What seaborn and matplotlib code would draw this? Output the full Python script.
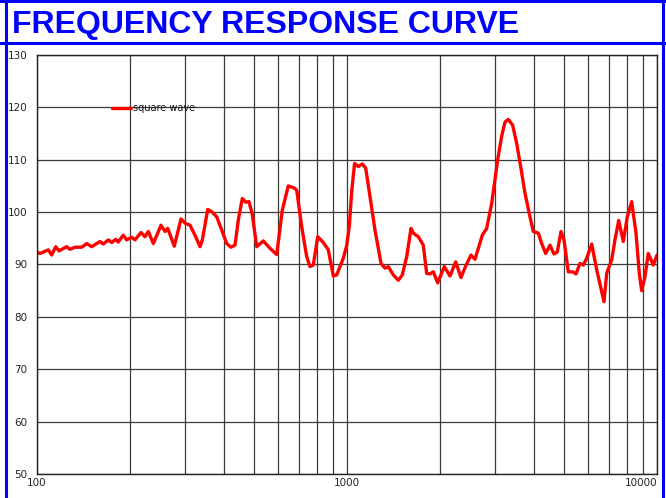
import numpy as np
import pandas as pd
import seaborn as sns
import matplotlib.pyplot as plt
from matplotlib.ticker import FixedLocator, NullFormatter, FuncFormatter
from matplotlib.lines import Line2D

# frequency (Hz) and level (dB)
freq = [100, 102.2, 108.8, 111.5, 114.9, 117.8, 124.7, 127.8, 132.6, 139.4,
        144.7, 150.1, 159.7, 163.6, 169.8, 174.2, 179.4, 182.9, 189.8, 194.6,
        202.1, 207.1, 216.5, 223.0, 228.6, 237.3, 251.2, 258.8, 264.0, 277.3,
        291.4, 300.2, 311.6, 323.3, 335.7, 341.5, 355.4, 366.1, 379.9, 394.3,
        409.2, 422.5, 435.2, 446.1, 459.5, 471.2, 483.0, 495.0, 511.4, 537.0,
        564.3, 593.3, 618.5, 646.6, 676.1, 688.3, 714.4, 741.3, 759.6, 778.6,
        804.5, 838.6, 870.4, 903.3, 926.4, 972.9, 997.8, 1018, 1035.6, 1058,
        1087.8, 1120.5, 1149.0, 1186.4, 1231.2, 1287.4, 1326.2, 1359.0, 1410.6, 1463.9,
        1508.1, 1558.2, 1608.8, 1636.4, 1698.2, 1762.3, 1807.5, 1852.2, 1898.4, 1961.5,
        2060.1, 2149.2, 2242.0, 2331.9, 2414.8, 2511.9, 2587.8, 2732.3, 2822.6, 2929.8,
        3062.8, 3155.1, 3233.5, 3313.5, 3423.6, 3526.8, 3633.1, 3751.4, 3893.1, 3990.1,
        4140.9, 4247.1, 4375.1, 4516.3, 4652.5, 4768.5, 4900.9, 5011.9, 5174.9, 5347.0,
        5479.2, 5644.4, 5784.9, 5931.9, 6156.8, 6390.0, 6745.3, 6881.8, 7143.3, 7319.9,
        7524.2, 7785.0, 8019.8, 8286.3, 8556.0, 8767.4, 8924.2, 9146.8, 9372.8, 9729.9,
        10000]
spl = [92.4, 92.1, 92.8, 91.8, 93.4, 92.6, 93.4, 92.9, 93.3, 93.3,
       94.0, 93.4, 94.4, 93.9, 94.7, 94.2, 94.8, 94.3, 95.6, 94.7,
       95.2, 94.7, 96.1, 95.3, 96.3, 94.0, 97.5, 96.3, 96.9, 93.5,
       98.7, 97.9, 97.5, 95.6, 93.4, 94.7, 100.5, 100.1, 99.1, 96.6,
       94.0, 93.3, 93.7, 98.5, 102.6, 101.9, 102.0, 99.5, 93.4, 94.5,
       93.1, 91.9, 100.4, 105.0, 104.6, 104.2, 97.2, 91.5, 89.6, 89.9,
       95.3, 94.2, 92.8, 87.8, 88.0, 91.2, 93.6, 97.5, 104.0, 109.3,
       108.7, 109.2, 108.4, 102.9, 96.6, 90.2, 89.3, 89.6, 88.0, 87.0,
       88.0, 91.5, 96.9, 96.0, 95.3, 93.7, 88.3, 88.2, 88.6, 86.5,
       89.6, 87.8, 90.5, 87.5, 89.7, 91.8, 91.0, 95.6, 96.9, 101.7,
       110.0, 114.5, 117.2, 117.7, 116.6, 113.1, 108.7, 103.6, 99.1, 96.3,
       96.0, 94.0, 92.1, 93.7, 92.0, 92.4, 96.3, 94.7, 88.6, 88.6,
       88.2, 90.2, 89.9, 91.2, 93.9, 89.0, 82.9, 88.3, 90.9, 94.7,
       98.4, 94.4, 99.1, 102.0, 96.0, 88.3, 85.0, 87.7, 92.1, 89.9,
       91.8]
x_ticks = [100, 1000, 10000]
x_tick_labels = ["100", "1000", "10000"]
y_ticks = [50, 60, 70, 80, 90, 100, 110, 120, 130]

df = pd.DataFrame({"freq": freq, "spl": spl})

sns.set_style("white")
plt.rcParams['font.family'] = ['Liberation Sans Narrow', 'DejaVu Sans']

fig = plt.figure(figsize=(6.66, 4.98), dpi=100)
W, H = 666, 498
ax = fig.add_axes([37 / W, 24 / H, 620 / W, 419 / H])

sns.lineplot(data=df, x="freq", y="spl", color="red", linewidth=2.4,
             label="square wave", ax=ax, sort=False)

ax.set_xscale("log")
ax.set_xlim(100, 10000)
ax.set_ylim(50, 130)
ax.xaxis.set_major_locator(FixedLocator(x_ticks))
ax.xaxis.set_major_formatter(FuncFormatter(lambda v, p: x_tick_labels[x_ticks.index(int(round(v)))] if int(round(v)) in x_ticks else ""))
ax.xaxis.set_minor_formatter(NullFormatter())
ax.set_yticks(y_ticks)
ax.grid(True, which="both", axis="x", color="#3a3a3a", linewidth=0.9)
ax.grid(True, which="major", axis="y", color="#3a3a3a", linewidth=0.9)
ax.set_axisbelow(True)
ax.tick_params(axis="both", which="both", length=0, labelsize=7.5, colors="#222222")
ax.tick_params(axis="y", pad=7)
ax.tick_params(axis="x", pad=3)
for s in ax.spines.values():
    s.set_color("#222222")
    s.set_linewidth(1.0)
ax.set_xlabel("")
ax.set_ylabel("")
labels = ax.get_xticklabels()
labels[-1].set_horizontalalignment("right")

leg = ax.legend(loc="center left", bbox_to_anchor=(0.121, 0.8735), frameon=False,
                fontsize=7, handlelength=2.0, handletextpad=0.2, borderpad=0,
                borderaxespad=0)
for t in leg.get_texts():
    t.set_color("#111111")

# title and blue frame
fig.text(12 / W, 1 - 33 / H, "FREQUENCY RESPONSE CURVE", color="#0000ff",
         fontsize=23.0, fontweight="bold", family=["Liberation Sans", "DejaVu Sans"],
         va="baseline", ha="left")
blue = "#0000ff"
fig.add_artist(Line2D([6 / W, 6 / W], [0, 1], color=blue, lw=2.2, transform=fig.transFigure))
fig.add_artist(Line2D([663 / W, 663 / W], [0, 1], color=blue, lw=2.2, transform=fig.transFigure))
fig.add_artist(Line2D([0, 1], [1 - 1 / H, 1 - 1 / H], color=blue, lw=2.2, transform=fig.transFigure))
fig.add_artist(Line2D([0, 1], [1 - 43 / H, 1 - 43 / H], color=blue, lw=2.2, transform=fig.transFigure))

fig.savefig("out.png", dpi=100)
